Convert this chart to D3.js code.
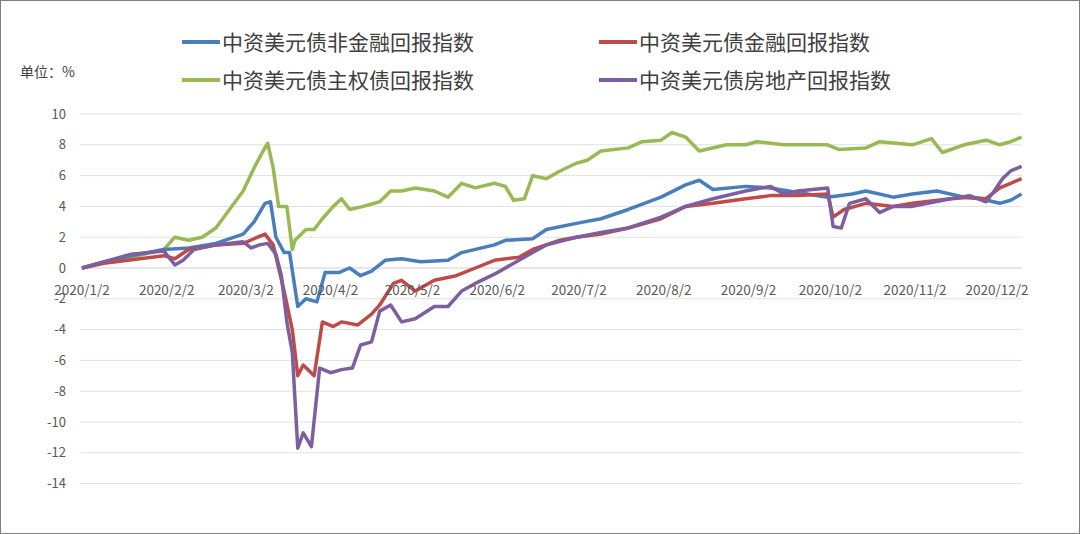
<!DOCTYPE html><html><head><meta charset="utf-8"><script src="https://cdn.jsdelivr.net/npm/d3@7"></script>
<style>body{margin:0;background:#fff}svg{display:block}</style></head><body><svg id="c" width="1080" height="534"></svg><script>
const seriesNames=["中资美元债非金融回报指数","中资美元债金融回报指数","中资美元债主权债回报指数","中资美元债房地产回报指数"];
const colors=["#4a7ebb","#be4b48","#98b954","#7d5fa0"];
const tickLabels=["2020/1/2","2020/2/2","2020/3/2","2020/4/2","2020/5/2","2020/6/2","2020/7/2","2020/8/2","2020/9/2","2020/10/2","2020/11/2","2020/12/2"];
const yTicks=[10,8,6,4,2,0,-2,-4,-6,-8,-10,-12,-14];
const nonFin=[["1-2",0],["1-10",0.4],["1-20",0.8],["2-1",1.2],["2-10",1.3],["2-20",1.6],["3-1",2.2],["3-5",3.0],["3-9",4.2],["3-11",4.3],["3-13",2.0],["3-16",1.0],["3-18",1.0],["3-21",-2.5],["3-24",-2.0],["3-28",-2.2],["3-31",-0.3],["4-5",-0.3],["4-9",0],["4-13",-0.5],["4-17",-0.2],["4-22",0.5],["4-28",0.6],["5-5",0.4],["5-15",0.5],["5-20",1.0],["6-1",1.5],["6-5",1.8],["6-15",1.9],["6-20",2.5],["7-1",2.9],["7-10",3.2],["7-20",3.8],["8-1",4.6],["8-10",5.4],["8-15",5.7],["8-20",5.1],["9-1",5.3],["9-10",5.2],["9-20",4.9],["10-1",4.6],["10-10",4.8],["10-15",5.0],["10-25",4.6],["11-1",4.8],["11-10",5.0],["11-20",4.6],["11-26",4.5],["12-3",4.2],["12-7",4.4],["12-11",4.8]];
const fin=[["1-2",0],["1-10",0.3],["2-1",0.8],["2-5",0.6],["2-10",1.2],["2-20",1.5],["3-1",1.6],["3-5",1.9],["3-9",2.2],["3-12",1.5],["3-14",0],["3-16",-1.5],["3-19",-4],["3-21",-7],["3-23",-6.3],["3-27",-7],["3-30",-3.5],["4-3",-3.8],["4-6",-3.5],["4-12",-3.7],["4-17",-3.0],["4-20",-2.4],["4-25",-1.0],["4-28",-0.8],["5-3",-1.5],["5-10",-0.8],["5-18",-0.5],["5-25",0],["6-1",0.5],["6-10",0.7],["6-15",1.2],["6-25",1.8],["7-1",2.0],["7-10",2.2],["7-20",2.6],["8-1",3.2],["8-10",4.0],["8-20",4.2],["9-1",4.5],["9-10",4.7],["9-20",4.7],["10-1",4.8],["10-3",3.3],["10-7",3.8],["10-15",4.2],["10-25",4.0],["11-1",4.2],["11-15",4.5],["11-22",4.6],["11-28",4.5],["12-3",5.2],["12-7",5.5],["12-11",5.8]];
const sov=[["1-2",0],["1-10",0.4],["1-20",0.7],["2-1",1.2],["2-5",2.0],["2-10",1.8],["2-15",2.0],["2-20",2.6],["2-25",3.8],["3-1",5.0],["3-5",6.5],["3-8",7.5],["3-10",8.1],["3-12",6.5],["3-14",4.0],["3-17",4.0],["3-19",1.2],["3-20",1.8],["3-24",2.5],["3-27",2.5],["3-30",3.2],["4-3",4.0],["4-6",4.5],["4-9",3.8],["4-14",4.0],["4-20",4.3],["4-24",5.0],["4-28",5.0],["5-3",5.2],["5-10",5.0],["5-15",4.6],["5-20",5.5],["5-25",5.2],["6-1",5.5],["6-5",5.3],["6-8",4.4],["6-12",4.5],["6-15",6.0],["6-20",5.8],["6-25",6.3],["7-1",6.8],["7-5",7.0],["7-10",7.6],["7-20",7.8],["7-25",8.2],["8-1",8.3],["8-5",8.8],["8-10",8.5],["8-15",7.6],["8-25",8.0],["9-1",8.0],["9-5",8.2],["9-15",8.0],["9-20",8.0],["10-1",8.0],["10-5",7.7],["10-15",7.8],["10-20",8.2],["11-1",8.0],["11-8",8.4],["11-12",7.5],["11-20",8.0],["11-28",8.3],["12-3",8.0],["12-7",8.2],["12-11",8.5]];
const realEstate=[["1-2",0],["1-10",0.4],["1-20",0.9],["2-1",1.1],["2-5",0.2],["2-8",0.5],["2-12",1.2],["2-20",1.5],["3-1",1.7],["3-4",1.3],["3-7",1.5],["3-10",1.6],["3-13",0.9],["3-15",-0.5],["3-17",-3.5],["3-19",-5.5],["3-21",-11.7],["3-23",-10.7],["3-26",-11.6],["3-29",-6.5],["4-2",-6.8],["4-6",-6.6],["4-10",-6.5],["4-13",-5],["4-17",-4.8],["4-20",-2.8],["4-24",-2.4],["4-28",-3.5],["5-3",-3.3],["5-10",-2.5],["5-15",-2.5],["5-20",-1.5],["5-25",-1],["6-1",-0.4],["6-10",0.5],["6-15",1.0],["6-20",1.5],["7-1",2.0],["7-10",2.3],["7-20",2.6],["8-1",3.3],["8-10",4.0],["8-20",4.5],["9-1",5.0],["9-10",5.3],["9-15",4.8],["9-20",5.0],["10-1",5.2],["10-3",2.7],["10-6",2.6],["10-9",4.2],["10-15",4.5],["10-20",3.6],["10-25",4.0],["11-1",4.0],["11-15",4.5],["11-22",4.7],["11-28",4.3],["12-1",5.0],["12-4",5.8],["12-7",6.3],["12-11",6.6]];
const allSeries=[nonFin,fin,sov,realEstate];
const pd=s=>{const [m,d]=s.split("-").map(Number);return new Date(2020,m-1,d);};
const svg=d3.select("#c");
svg.append("rect").attr("x",0.5).attr("y",0.5).attr("width",1079).attr("height",533).attr("fill","#fff").attr("stroke","#7f7f7f");
const x=d3.scaleTime().domain([new Date(2020,0,2),new Date(2020,11,2)]).range([82,997]);
const y=d3.scaleLinear().domain([-14,10]).range([483.6,114]);
const g=svg.append("g");
yTicks.forEach(t=>{g.append("line").attr("x1",80).attr("x2",1022).attr("y1",y(t)).attr("y2",y(t)).attr("stroke",t===0?"#d0d0d0":"#e0e0e0").attr("stroke-width",1);
 g.append("text").attr("x",66).attr("y",y(t)+4.5).attr("text-anchor","end").attr("font-family","Noto Sans CJK SC, sans-serif").attr("font-size",13).attr("fill","#595959").text(t);});
const line=d3.line().x(d=>x(pd(d[0]))).y(d=>y(d[1]));
[2,0,1,3].forEach(i=>g.append("path").attr("d",line(allSeries[i])).attr("fill","none").attr("stroke",colors[i]).attr("stroke-width",3.5).attr("stroke-linejoin","round"));
tickLabels.forEach(t=>{const p=t.split("/").map(Number);g.append("text").attr("x",x(new Date(p[0],p[1]-1,p[2]))).attr("y",y(0)+27).attr("text-anchor","middle").attr("font-family","Noto Sans CJK SC, sans-serif").attr("font-size",13.5).attr("fill","#595959").text(t);});
svg.append("text").attr("x",20).attr("y",77).attr("font-family","Noto Sans CJK SC, sans-serif").attr("font-size",14).attr("fill","#404040").text("单位：%");
const legPos=[[182,42],[599,42],[182,80],[599,80]];
seriesNames.forEach((n,i)=>{const [lx,ly]=legPos[i];svg.append("line").attr("x1",lx).attr("x2",lx+38).attr("y1",ly).attr("y2",ly).attr("stroke",colors[i]).attr("stroke-width",4);
 svg.append("text").attr("x",lx+40).attr("y",ly+7.5).attr("font-family","Noto Sans CJK SC, sans-serif").attr("font-size",21).attr("fill","#404040").text(n);});
</script></body></html>
